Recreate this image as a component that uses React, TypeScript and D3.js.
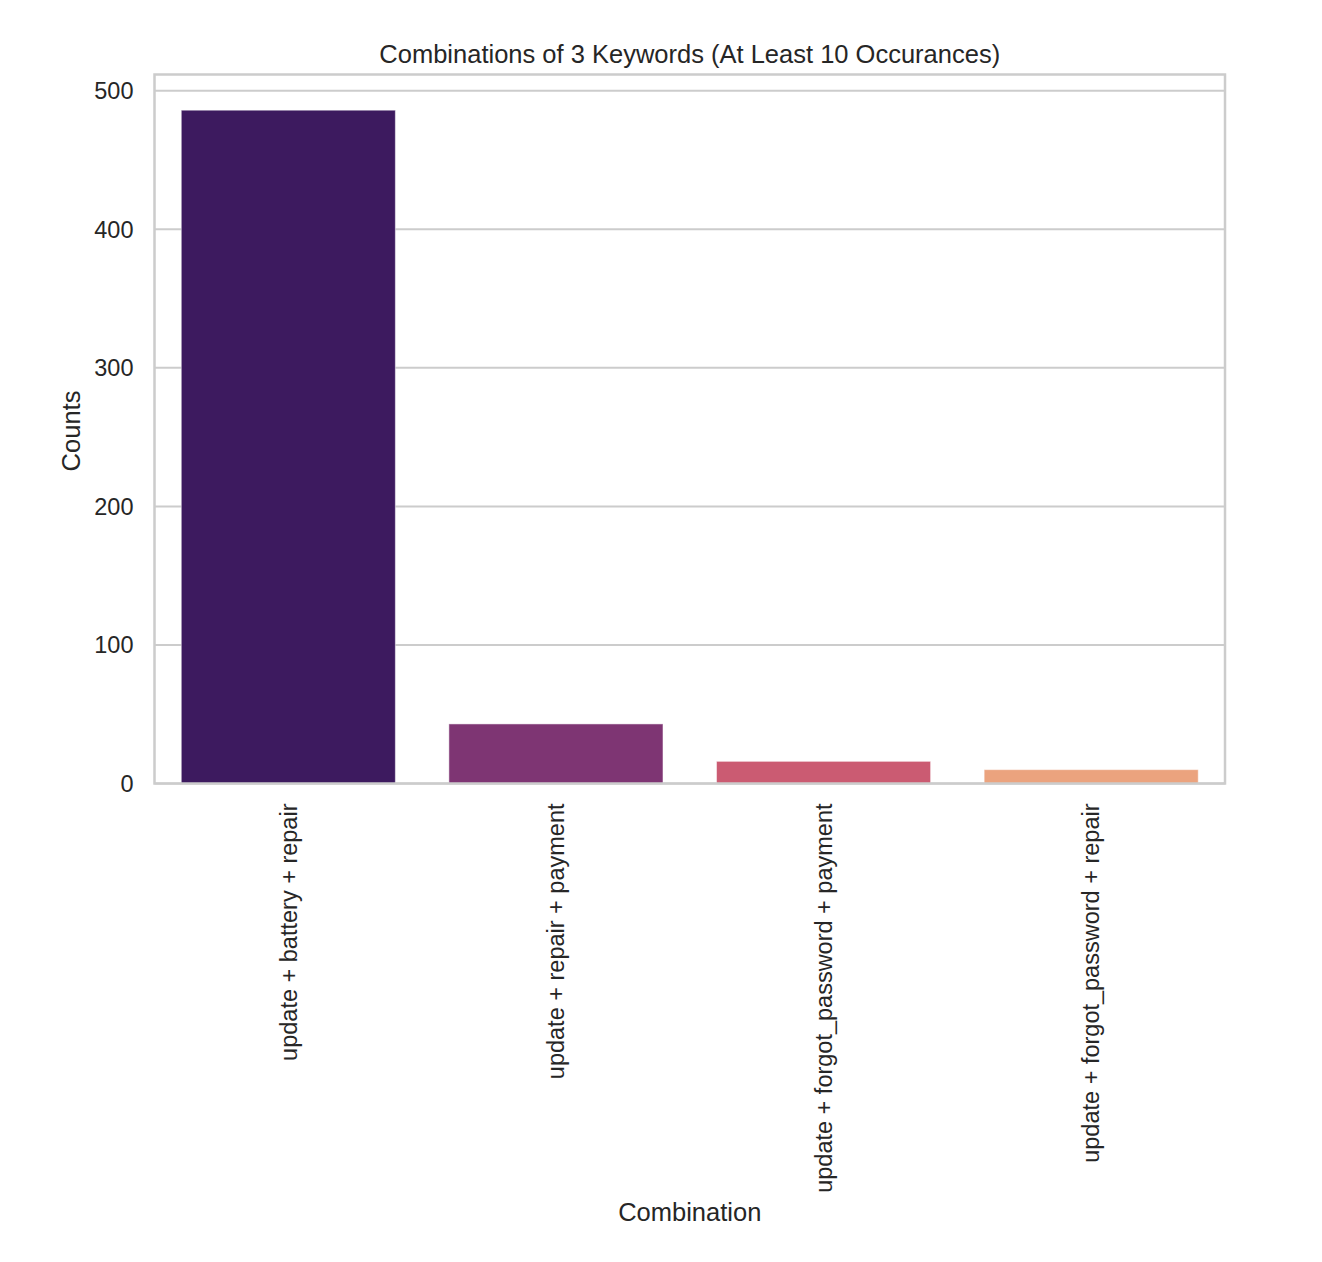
import * as d3 from 'd3'

const categories = [
  'update + battery + repair',
  'update + repair + payment',
  'update + forgot_password + payment',
  'update + forgot_password + repair',
]
const counts = [486, 43, 16, 10]
const barColors = ['#3d1a5f', '#7e3573', '#cb5b72', '#eba37e']
const yTicks = [0, 100, 200, 300, 400, 500]

const W = 1322
const H = 1262
const margin = { top: 74.5, right: 97, bottom: 478.5, left: 154.5 }
const font = '"Liberation Sans", Arial, sans-serif'
const ink = '#262626'
const grey = '#cccccc'

export default function App() {
  const innerW = W - margin.left - margin.right
  const innerH = H - margin.top - margin.bottom
  const x = d3
    .scaleBand<string>()
    .domain(categories)
    .range([0, innerW])
    .paddingInner(0.2)
    .paddingOuter(0.1)
  const y = d3
    .scaleLinear()
    .domain([0, (d3.max(counts) ?? 1) * 1.053])
    .range([innerH, 0])

  return (
    <svg
      width={W}
      height={H}
      style={{ position: 'absolute', left: 0, top: 0, background: '#fff' }}
      fontFamily={font}
    >
      <text
        x={margin.left + innerW / 2}
        y={63}
        textAnchor="middle"
        fontSize={25.5}
        fill={ink}
      >
        Combinations of 3 Keywords (At Least 10 Occurances)
      </text>
      <g transform={`translate(${margin.left},${margin.top})`}>
        {/* grid + y ticks */}
        {yTicks.map(t => (
          <g key={t} transform={`translate(0,${y(t)})`}>
            <line x2={innerW} stroke={grey} strokeWidth={2} />
            <text
              x={-21}
              dy="0.35em"
              textAnchor="end"
              fontSize={23.5}
              fill={ink}
            >
              {t}
            </text>
          </g>
        ))}
        {/* bars */}
        {categories.map((c, i) => (
          <rect
            key={c}
            x={x(c)}
            y={y(counts[i])}
            width={x.bandwidth()}
            height={innerH - y(counts[i])}
            fill={barColors[i]}
            stroke="#ffffff"
            strokeOpacity={0.5}
            strokeWidth={1}
          />
        ))}
        {/* frame */}
        <rect
          width={innerW}
          height={innerH}
          fill="none"
          stroke={grey}
          strokeWidth={2.5}
        />
        {/* x tick labels */}
        {categories.map(c => (
          <text
            key={c}
            transform={`translate(${(x(c) ?? 0) + x.bandwidth() / 2},${innerH + 20}) rotate(-90)`}
            textAnchor="end"
            dy="0.35em"
            fontSize={23.5}
            fill={ink}
          >
            {c}
          </text>
        ))}
        <text
          transform={`translate(-75,${innerH / 2 + 2}) rotate(-90)`}
          textAnchor="middle"
          fontSize={25.5}
          fill={ink}
        >
          Counts
        </text>
        <text
          x={innerW / 2}
          y={innerH + 437}
          textAnchor="middle"
          fontSize={25.5}
          fill={ink}
        >
          Combination
        </text>
      </g>
    </svg>
  )
}
